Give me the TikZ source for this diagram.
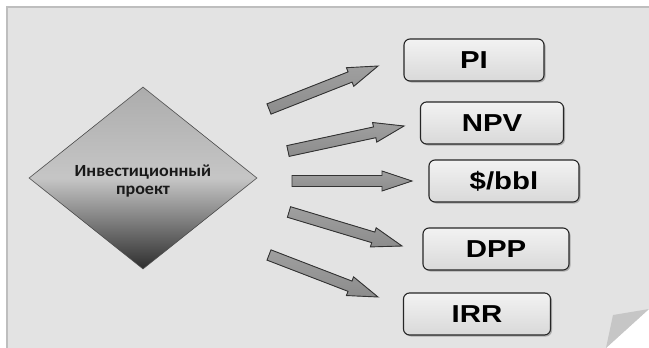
\documentclass[tikz,border=0pt]{standalone}
\usepackage{fontspec}
\setmainfont{Liberation Sans}
\newfontfamily\boxfont[FakeStretch=1.2]{Liberation Sans}
\newfontfamily\projfont[FakeStretch=1.06]{Carlito}
\usetikzlibrary{shapes.geometric,shadows,calc}

\definecolor{panelgray}{HTML}{E3E3E3}
\definecolor{edgegray}{HTML}{BEBEBE}
\definecolor{foldgray}{HTML}{C6C6C6}

% thick block arrow from #1 to #2
\newcommand{\fatarrow}[2]{%
  \path ($(#2)!30pt!(#1)$) coordinate (hb);
  \filldraw[arrowbody] ($(#1)!5.5pt!90:(#2)$) -- ($(hb)!5.5pt!90:(#2)$)
    -- ($(hb)!10pt!90:(#2)$) -- (#2) -- ($(hb)!10pt!-90:(#2)$)
    -- ($(hb)!5.5pt!-90:(#2)$) -- ($(#1)!5.5pt!-90:(#2)$) -- cycle;
}

\begin{document}
\begin{tikzpicture}[x=1pt,y=-1pt,
    metric/.style={draw=black!85, line width=1.1pt, rounded corners=6pt,
      top color=gray!10, bottom color=gray!30, minimum width=#1,
      minimum height=42pt, inner sep=0pt,
      font=\boxfont\bfseries\fontsize{24.5}{26}\selectfont,
      drop shadow={shadow xshift=1.5pt, shadow yshift=-1.5pt, opacity=0.55}},
    project/.style={diamond, draw=black!70, line width=0.6pt, inner sep=0pt,
      minimum width=228pt, minimum height=182pt,
      top color=gray!65, bottom color=black!82, middle color=gray!45},
    projlabel/.style={align=center, inner sep=0pt, text=black!90,
      font=\projfont\bfseries\fontsize{17}{18.5}\selectfont},
    arrowbody/.style={draw=black!80, line width=0.9pt,
      top color=gray!75, bottom color=gray!110!black}]
  \useasboundingbox (0,0) rectangle (649,348);

  % sheet with folded corner
  \fill[panelgray] (7,7) -- (649,7) -- (649,309) -- (606,348) -- (7,348) -- cycle;
  \draw[edgegray, line width=1.2pt] (7,348) -- (7,7) -- (649,7);
  \fill[foldgray] (613,315) -- (649,309) -- (606,348) -- cycle;

  \node[project] (proj) at (143,178) {};
  \node[projlabel] (projtext) at (143,181) {Инвестиционный\\проект};

  \node[metric=140pt] (pi)  at (474,60)  {PI};
  \node[metric=143pt] (npv) at (492,123) {NPV};
  \node[metric=150pt] (bbl) at (504,181) {\$/bbl};
  \node[metric=146pt] (dpp) at (496,249) {DPP};
  \node[metric=147pt] (irr) at (477,314) {IRR};

  \coordinate (t1) at (269,109); \coordinate (h1) at (378,66);
  \coordinate (t2) at (288,151); \coordinate (h2) at (404,126);
  \coordinate (t3) at (292,181); \coordinate (h3) at (412,181);
  \coordinate (t4) at (289,212); \coordinate (h4) at (402,246);
  \coordinate (t5) at (269,255); \coordinate (h5) at (378,297);

  \fatarrow{t1}{h1}
  \fatarrow{t2}{h2}
  \fatarrow{t3}{h3}
  \fatarrow{t4}{h4}
  \fatarrow{t5}{h5}
\end{tikzpicture}
\end{document}
